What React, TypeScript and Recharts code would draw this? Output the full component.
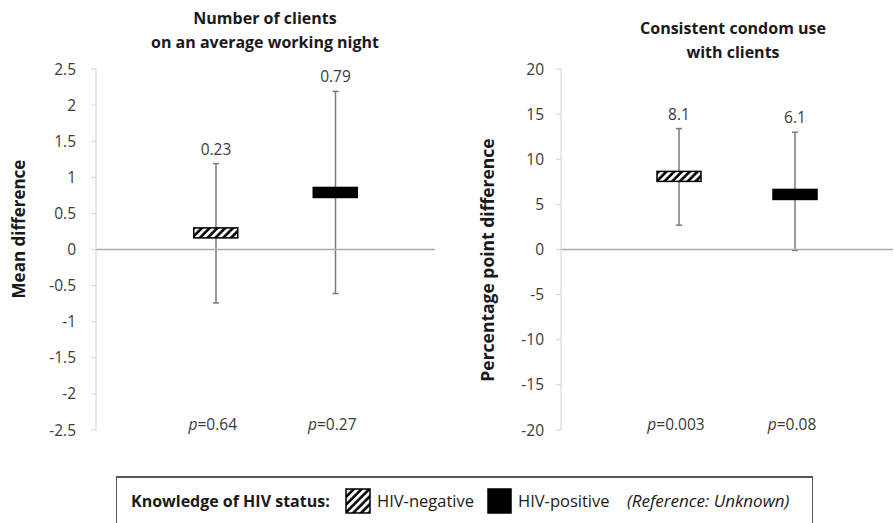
import React from "react";
import {
  ComposedChart,
  Bar,
  Line,
  XAxis,
  YAxis,
  ReferenceLine,
  LabelList,
} from "recharts";

const groups = ["HIV-negative", "HIV-positive"];

// Number of clients on an average working night
const clientsMean = [0.23, 0.79];
const clientsLow = [-0.74, -0.61];
const clientsHigh = [1.19, 2.19];
const clientsP = ["0.64", "0.27"];
const clientsTicks = [-2.5, -2, -1.5, -1, -0.5, 0, 0.5, 1, 1.5, 2, 2.5];

// Consistent condom use with clients
const condomMean = [8.1, 6.1];
const condomLow = [2.7, -0.1];
const condomHigh = [13.4, 13.0];
const condomP = ["0.003", "0.08"];
const condomTicks = [-20, -15, -10, -5, 0, 5, 10, 15, 20];

const FONT = "'Open Sans', sans-serif";
const TEXT = "#3a3a3a";
const FILLS = ["url(#hatch)", "#000"];

const toRows = (mean: number[], low: number[], high: number[], p: string[]) =>
  groups.map((g, i) => ({
    group: g,
    mean: mean[i],
    ci: [low[i], high[i]],
    label: String(mean[i]),
    p: p[i],
  }));

const clientsData = toRows(clientsMean, clientsLow, clientsHigh, clientsP);
const condomData = toRows(condomMean, condomLow, condomHigh, condomP);

// vertical whisker with small caps
const Whisker = (props: any) => {
  const { x, y, width, height } = props;
  const cx = x + width / 2;
  const top = Math.min(y, y + height);
  const bottom = Math.max(y, y + height);
  return (
    <g stroke="#7a7a7a" strokeWidth={1.5}>
      <line x1={cx} x2={cx} y1={top} y2={bottom} />
      <line x1={cx - 3} x2={cx + 3} y1={top} y2={top} />
      <line x1={cx - 3} x2={cx + 3} y1={bottom} y2={bottom} />
    </g>
  );
};

const BoxDot = (props: any) => {
  const { cx, cy, index } = props;
  return (
    <rect
      key={"box" + index}
      x={cx - 22}
      y={cy - 5}
      width={44}
      height={10}
      fill={FILLS[index]}
      stroke="#000"
      strokeWidth={1.5}
    />
  );
};

const PTick = (props: any) => {
  const { x, y, payload, data } = props;
  const row = data.find((d: any) => d.group === payload.value);
  return (
    <text
      x={x - 3}
      y={y}
      textAnchor="middle"
      fill={TEXT}
      fontSize={15.5}
      fontFamily={FONT}
    >
      <tspan fontStyle="italic">p</tspan>={row ? row.p : ""}
    </text>
  );
};

function Panel({
  data,
  ticks,
  yWidth,
  right,
  tickMargin,
}: {
  data: any[];
  ticks: number[];
  yWidth: number;
  right: number;
  tickMargin: number;
}) {
  return (
    <ComposedChart
      width={447}
      height={460}
      data={data}
      margin={{ top: 69, right, bottom: 0, left: 0 }}
    >
      <XAxis
        dataKey="group"
        height={30}
        axisLine={false}
        tickLine={false}
        tickSize={0}
        tickMargin={0}
        padding={{ left: 60, right: 40 }}
        tick={<PTick data={data} />}
        interval={0}
      />
      <YAxis
        width={yWidth}
        domain={[ticks[0], ticks[ticks.length - 1]]}
        ticks={ticks}
        interval={0}
        axisLine={{ stroke: "#d3d3d3" }}
        tickLine={{ stroke: "#d3d3d3" }}
        tickSize={5}
        tickMargin={tickMargin}
        tick={{ fill: TEXT, fontSize: 15.5, fontFamily: FONT }}
      />
      <ReferenceLine y={0} stroke="#a8a8a8" strokeWidth={1.5} />
      <Bar dataKey="ci" barSize={10} shape={<Whisker />} isAnimationActive={false}>
        <LabelList
          dataKey="label"
          position="top"
          offset={9}
          fill={TEXT}
          fontSize={15.5}
          fontFamily={FONT}
        />
      </Bar>
      <Line
        dataKey="mean"
        stroke="none"
        dot={BoxDot}
        activeDot={false}
        isAnimationActive={false}
      />
    </ComposedChart>
  );
}

const titleStyle: React.CSSProperties = {
  position: "absolute",
  fontFamily: FONT,
  fontWeight: 700,
  fontSize: 16,
  lineHeight: "24px",
  color: "#1a1a1a",
  textAlign: "center",
  width: 360,
};

const legendText: React.CSSProperties = {
  position: "absolute",
  top: 12,
  fontFamily: FONT,
  fontSize: 16.5,
  lineHeight: "22px",
  color: "#1a1a1a",
  whiteSpace: "nowrap",
};

export default function App() {
  return (
    <div
      style={{
        position: "absolute",
        left: 0,
        top: 0,
        width: 894,
        height: 523,
        background: "#fff",
        overflow: "hidden",
      }}
    >
      <svg width={0} height={0} style={{ position: "absolute" }}>
        <defs>
          <pattern
            id="hatch"
            patternUnits="userSpaceOnUse"
            width={5.5}
            height={5.5}
            patternTransform="rotate(45)"
          >
            <rect width={5.5} height={5.5} fill="#fff" />
            <line x1={1.5} y1={0} x2={1.5} y2={5.5} stroke="#000" strokeWidth={2.6} />
          </pattern>
        </defs>
      </svg>

      <div style={{ position: "absolute", left: 0, top: 0 }}>
        <Panel data={clientsData} ticks={clientsTicks} yWidth={96} right={12} tickMargin={15} />
      </div>
      <div style={{ position: "absolute", left: 447, top: 0 }}>
        <Panel data={condomData} ticks={condomTicks} yWidth={114} right={1} tickMargin={12} />
      </div>

      <div style={{ ...titleStyle, left: 265 - 180, top: 6 }}>
        Number of clients
        <br />
        on an average working night
      </div>
      <div style={{ ...titleStyle, left: 733 - 180, top: 16 }}>
        Consistent condom use
        <br />
        with clients
      </div>

      <svg width={894} height={523} style={{ position: "absolute", left: 0, top: 0, pointerEvents: "none" }}>
        <text
          transform="translate(25,229) rotate(-90)"
          textAnchor="middle"
          fontFamily={FONT}
          fontWeight={700}
          fontSize={17}
          fill="#1a1a1a"
        >
          Mean difference
        </text>
        <text
          transform="translate(494,260) rotate(-90)"
          textAnchor="middle"
          fontFamily={FONT}
          fontWeight={700}
          fontSize={17.5}
          fill="#1a1a1a"
        >
          Percentage point difference
        </text>
      </svg>

      <div
        style={{
          position: "absolute",
          left: 116,
          top: 476,
          width: 697,
          height: 48,
          boxSizing: "border-box",
          borderTop: "2px solid #555",
          borderLeft: "1.5px solid #555",
          borderRight: "1.5px solid #555",
          borderBottom: "1px solid #c8c8c8",
        }}
      >
        <span style={{ ...legendText, left: 14, fontWeight: 700, fontSize: 16 }}>
          Knowledge of HIV status:
        </span>
        <svg width={26} height={27} style={{ position: "absolute", left: 228, top: 10 }}>
          <rect x={1} y={1} width={24} height={24} fill={FILLS[0]} stroke="#000" strokeWidth={1.5} />
        </svg>
        <span style={{ ...legendText, left: 260 }}>{groups[0]}</span>
        <svg width={26} height={27} style={{ position: "absolute", left: 370, top: 10 }}>
          <rect x={1} y={1} width={23} height={24} fill={FILLS[1]} stroke="#000" strokeWidth={1.5} />
        </svg>
        <span style={{ ...legendText, left: 401 }}>{groups[1]}</span>
        <span style={{ ...legendText, left: 510, fontStyle: "italic", fontSize: 17 }}>
          (Reference: Unknown)
        </span>
      </div>
    </div>
  );
}
